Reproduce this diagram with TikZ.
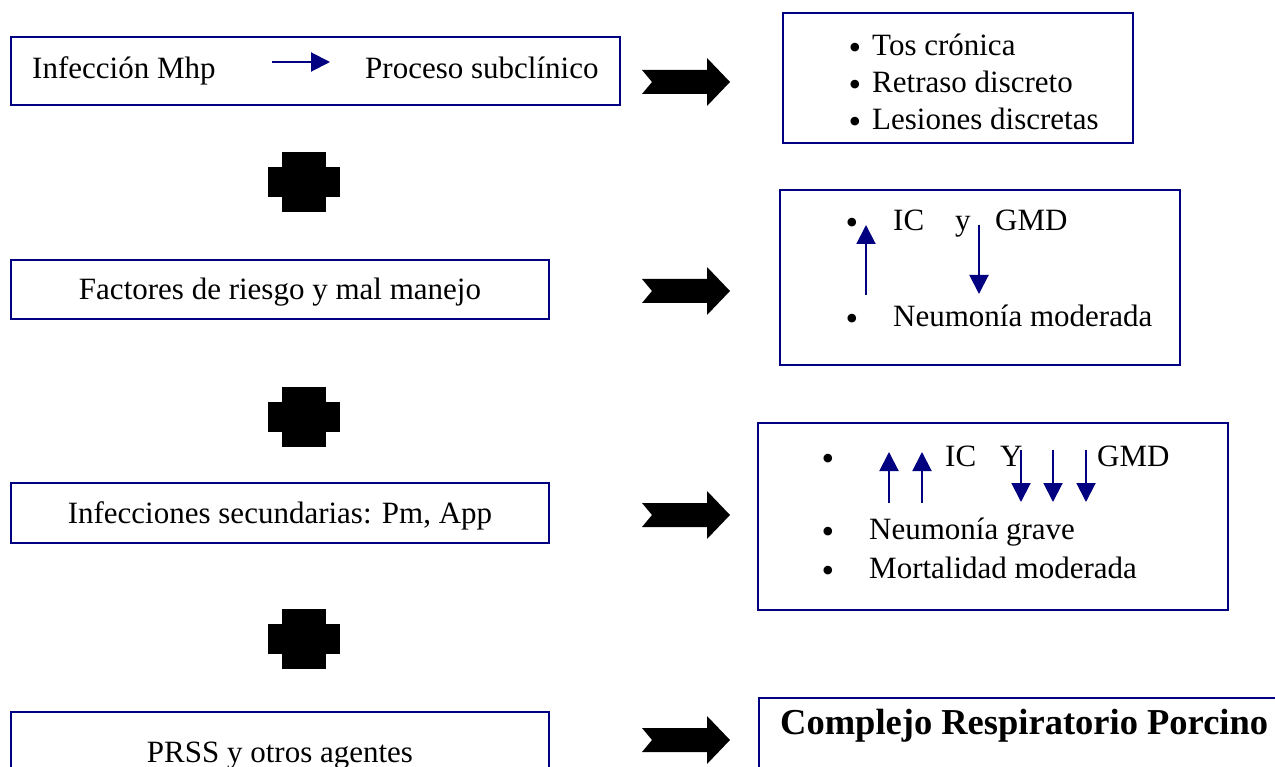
\documentclass[tikz,border=0pt]{standalone}
\usepackage{fontspec}
\setmainfont{Liberation Serif}
\usetikzlibrary{arrows.meta}
\definecolor{azul}{RGB}{0,0,128}

\begin{document}
\begin{tikzpicture}
		[x=1pt, y=-1pt,
		every node/.style={font=\fontsize{31}{37}\selectfont, inner sep=0pt},
		caja/.style={draw=azul, line width=2pt, rectangle, text height=24pt, text depth=3pt},
		punto/.style={anchor=base, yshift=-4pt, font=\fontsize{36}{36}\selectfont},
		flechita/.style={azul, line width=2pt, -{Triangle[length=19pt,width=19pt]}},
		flecha/.pic={\fill (-44,-12) -- (21,-12) -- (21,-24) -- (44,0) -- (21,24) -- (21,12) -- (-44,12) -- (-34,0) -- cycle;},
		mas/.pic={\fill (-22,-30) rectangle (22,30); \fill (-36,-15) rectangle (36,15);},
		]

		\useasboundingbox (0,0) rectangle (1275,767);

		% columna izquierda
		\node[caja, minimum width=609pt, minimum height=68pt] (c1) at (315.5,71) {};
		\node[anchor=base west] (mhp) at (32,79) {Infección Mhp};
		\node[anchor=base west] (sub) at (365,79) {Proceso subclínico};
		\coordinate (ini) at (272,62);
		\coordinate (fin) at (330,62);
		\draw[flechita] (ini) -- (fin);

		\node[caja, minimum width=538pt, minimum height=59pt] (c2) at (280,289.5) {Factores de riesgo y mal manejo};
		\node[caja, minimum width=538pt, minimum height=60pt] (c3) at (280,513) {Infecciones secundarias: Pm, App};
		\node[caja, minimum width=538pt, minimum height=80pt] (c4) at (280,752) {PRSS y otros agentes};

		\foreach \y in {182,417,639}
			\pic at (304,\y) {mas};
		\foreach \y in {82,291,515,740}
			\pic at (686,\y) {flecha};

		% columna derecha
		\node[caja, minimum width=350pt, minimum height=130pt] (d1) at (958,78) {};
		\foreach \t/\y/\n in {Tos crónica/56/a, Retraso discreto/93/b, Lesiones discretas/130/c} {
			\node[punto] (q\n) at (855,\y) {\textbullet};
			\node[anchor=base west] (l\n) at (872,\y) {\t};
		}

		\node[caja, minimum width=400pt, minimum height=175pt] (d2) at (980,277.5) {};
		\node[punto] (pa) at (852,231) {\textbullet};
		\node[anchor=base west] (ica) at (893,231) {IC};
		\node[anchor=base west] (ya) at (955,231) {y};
		\node[anchor=base west] (gmda) at (995,231) {GMD};
		\node[punto] (pb) at (852,327) {\textbullet};
		\node[anchor=base west] (neua) at (893,327) {Neumonía moderada};
		\coordinate (subea) at (866,295);
		\coordinate (topea) at (866,225);
		\draw[flechita] (subea) -- (topea);
		\coordinate (bajaa) at (979,225);
		\coordinate (fonda) at (979,294);
		\draw[flechita] (bajaa) -- (fonda);

		\node[caja, minimum width=470pt, minimum height=187pt] (d3) at (993,516.5) {};
		\node[punto] (pc) at (828,466) {\textbullet};
		\node[anchor=base west] (icb) at (945,466) {IC};
		\node[anchor=base west] (yb) at (1000,466) {Y};
		\node[anchor=base west] (gmdb) at (1097,466) {GMD};
		\node[punto] (pd) at (828,539) {\textbullet};
		\node[anchor=base west] (neub) at (869,539) {Neumonía grave};
		\node[punto] (pe) at (828,578) {\textbullet};
		\node[anchor=base west] (mor) at (869,578) {Mortalidad moderada};
		\foreach \x/\n in {889/a,922/b} {
			\coordinate (sube\n) at (\x,503);
			\coordinate (tope\n) at (\x,452);
			\draw[flechita] (sube\n) -- (tope\n);
		}
		\foreach \x/\n in {1021/a,1053/b,1086/c} {
			\coordinate (baja\n) at (\x,450);
			\coordinate (fondo\n) at (\x,502);
			\draw[flechita] (baja\n) -- (fondo\n);
		}

		\node[caja, minimum width=540pt, minimum height=100pt, anchor=north west] (d4) at (758,697) {};
		\node[anchor=base west, font=\fontsize{36.5}{44}\selectfont\bfseries] (crp) at (780,734) {Complejo Respiratorio Porcino};
	\end{tikzpicture}
\end{document}
